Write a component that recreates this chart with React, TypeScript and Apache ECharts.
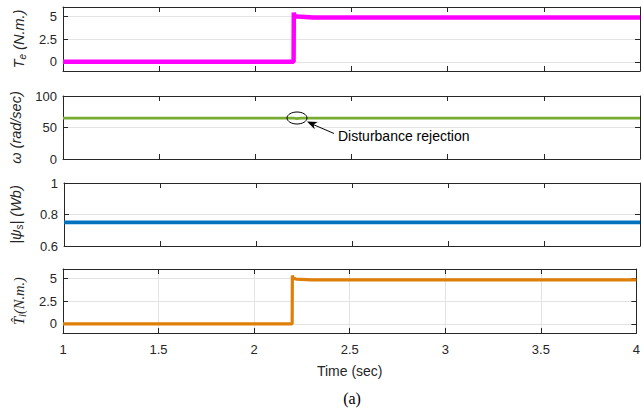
import React, { useEffect, useRef } from "react";
import * as echarts from "echarts";

// ---- data ----
const xTicks = [1, 1.5, 2, 2.5, 3, 3.5, 4];
const teTime = [1, 2.199, 2.2, 2.203, 2.22, 2.3, 4];
const teValues = [0, 0, 5.4, 5.0, 4.95, 4.85, 4.85];
const wTime = [1, 2.2, 2.21, 2.24, 4];
const wValues = [65, 65, 64.2, 65, 65];
const psiTime = [1, 4];
const psiValues = [0.75, 0.75];
const tlTime = [1, 2.199, 2.2, 2.203, 2.22, 2.3, 4];
const tlValues = [0, 0, 5.3, 5.0, 4.9, 4.82, 4.82];
const teTicks = [0, 2.5, 5];
const wTicks = [0, 50, 100];
const psiTicks = [0.6, 0.8, 1];
const tlTicks = [0, 2.5, 5];

const AX = "#262626";
const GRIDC = "#e3e3e3";
const SANS = "Liberation Sans, Arial, sans-serif";
const SERIF = "Liberation Serif, Times New Roman, serif";

export default function App() {
  const ref = useRef<HTMLDivElement>(null);
  useEffect(() => {
    if (!ref.current) return;
    const chart = echarts.init(ref.current, undefined, { renderer: "svg" });
    const panels = [
      { top: 7, height: 64, min: -1, max: 6, ticks: teTicks, t: teTime, v: teValues, color: "#ff00ff", w: 4.5,
        name: "{it|T}{sub|e}{it| (N.m.)}", serif: false, gap: 36 },
      { top: 96, height: 63, min: 0, max: 100, ticks: wTicks, t: wTime, v: wValues, color: "#77ac30", w: 2.7,
        name: "{it|ω (rad/sec)}", serif: false, gap: 40 },
      { top: 183, height: 63, min: 0.6, max: 1, ticks: psiTicks, t: psiTime, v: psiValues, color: "#0072bd", w: 3.6,
        name: "{it||ψ}{sub|s}{it|| (Wb)}", serif: false, gap: 40 },
      { top: 269, height: 64, min: -1, max: 6, ticks: tlTicks, t: tlTime, v: tlValues, color: "#e07f08", w: 3.2,
        name: "{it|T\u0302}{sub|l}{it|(N.m.)}", serif: true, gap: 36 },
    ];
    const grid: any[] = [];
    const xAxis: any[] = [];
    const yAxis: any[] = [];
    const series: any[] = [];
    panels.forEach((p, i) => {
      const last = i === panels.length - 1;
      grid.push({ left: 63, right: 3, top: p.top, height: p.height });
      const fam = p.serif ? SERIF : SANS;
      xAxis.push({
        type: "value", gridIndex: i, min: 1, max: 4, interval: 0.5, position: "bottom",
        axisLine: { show: true, onZero: false, lineStyle: { color: AX, width: 1 } },
        axisTick: { show: true, inside: true, length: 5, lineStyle: { color: AX } },
        axisLabel: { show: last, color: AX, fontSize: 13, fontFamily: SANS, margin: 10 },
        splitLine: { show: last, lineStyle: { color: GRIDC, width: 1 } },
        name: last ? "Time (sec)" : "", nameLocation: "middle", nameGap: 31,
        nameTextStyle: { color: AX, fontSize: 14, fontFamily: SANS },
      });
      xAxis.push({
        type: "value", gridIndex: i, min: 1, max: 4, interval: 0.5, position: "top",
        axisLine: { show: true, onZero: false, lineStyle: { color: AX, width: 1 } },
        axisTick: { show: true, inside: true, length: 5, lineStyle: { color: AX } },
        axisLabel: { show: false }, splitLine: { show: false },
      });
      yAxis.push({
        type: "value", gridIndex: i, min: p.min, max: p.max, position: "left",
        axisLine: { show: true, onZero: false, lineStyle: { color: AX, width: 1 } },
        axisTick: { show: true, inside: true, length: 5, customValues: p.ticks, lineStyle: { color: AX } },
        axisLabel: { show: true, customValues: p.ticks, color: AX, fontSize: 13, fontFamily: SANS, margin: 6 },
        splitLine: { show: true, lineStyle: { color: GRIDC, width: 1 } },
        name: p.name, nameLocation: "middle", nameRotate: 90, nameGap: p.gap,
        nameTextStyle: {
          color: AX, fontSize: 14, fontFamily: fam,
          rich: {
            it: { fontStyle: "italic", fontSize: 14.5, fontFamily: fam, color: AX },
            sub: { fontStyle: "italic", fontSize: 10, fontFamily: fam, color: AX, verticalAlign: "bottom", padding: [7, 0, 0, 0] },
          },
        },
      });
      yAxis.push({
        type: "value", gridIndex: i, min: p.min, max: p.max, position: "right",
        axisLine: { show: true, onZero: false, lineStyle: { color: AX, width: 1 } },
        axisTick: { show: true, inside: true, length: 5, customValues: p.ticks, lineStyle: { color: AX } },
        axisLabel: { show: false }, splitLine: { show: false },
      });
      series.push({
        type: "line", xAxisIndex: 2 * i, yAxisIndex: 2 * i,
        data: p.t.map((t, k) => [t, p.v[k]]),
        showSymbol: false, symbol: "none",
        lineStyle: { color: p.color, width: p.w },
        itemStyle: { color: p.color },
        clip: true,
      });
    });
    chart.setOption({
      animation: false,
      backgroundColor: "#ffffff",
      grid, xAxis, yAxis, series,
      graphic: [
        { type: "ellipse", shape: { cx: 297, cy: 118, rx: 10, ry: 6 }, style: { fill: "none", stroke: "#000", lineWidth: 1 }, z: 100 },
        { type: "line", shape: { x1: 334, y1: 133.5, x2: 312, y2: 124 }, style: { stroke: "#000", lineWidth: 1 }, z: 100 },
        { type: "polygon", shape: { points: [[307, 121.5], [317.8, 121.9], [313.6, 124.6], [314.6, 129.3]] }, style: { fill: "#000" }, z: 100 },
        { type: "text", x: 338, y: 136, style: { text: "Disturbance rejection", fill: "#000", font: "14px Liberation Sans", textVerticalAlign: "middle", textAlign: "left" }, z: 100 },
        { type: "text", x: 352, y: 398, style: { text: "(a)", fill: "#000", font: "16px Liberation Serif", textAlign: "center", textVerticalAlign: "middle" }, z: 100 },
      ],
    });
    return () => chart.dispose();
  }, []);
  return <div ref={ref} style={{ position: "fixed", left: 0, top: 0, width: 643, height: 411 }} />;
}
